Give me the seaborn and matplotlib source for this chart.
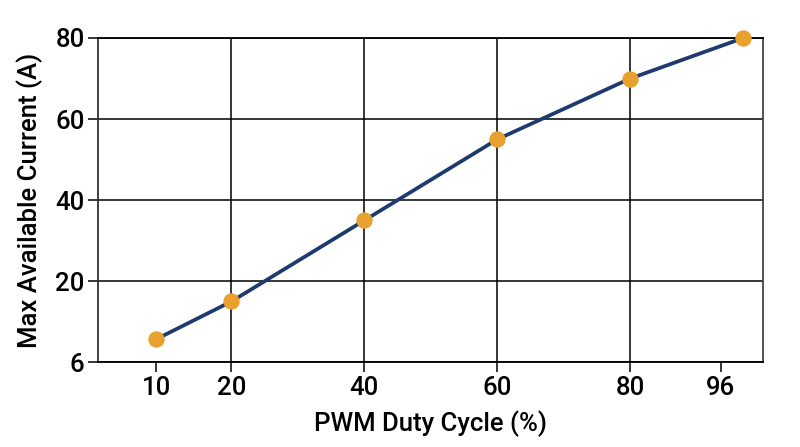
import numpy as np
import pandas as pd
import matplotlib
matplotlib.use("Agg")
import matplotlib.pyplot as plt
import seaborn as sns

# values (x positions on a 0-100 scale)
duty = [8.7, 20, 40, 60, 80, 97]
current = [5.7, 15, 35, 55, 70, 80]

# tick labels as printed on the chart
xmajor = [20, 40, 60, 80]
xmajor_labels = ["20", "40", "60", "80"]
xminor = [8.7, 93.6]
xminor_labels = ["10", "96"]
yticks = [0, 20, 40, 60, 80]
ytick_labels = ["6", "20", "40", "60", "80"]

navy = "#1e3a6f"
orange = "#e8a02e"

sns.set_theme(style="white")
plt.rcParams['font.family'] = ['Roboto', 'DejaVu Sans']
plt.rcParams['font.weight'] = 500

df = pd.DataFrame({"duty": duty, "current": current})

fig = plt.figure(figsize=(8, 4.47), dpi=100)
ax = fig.add_axes([0.123, 0.1895, 0.831, 0.7255])

sns.lineplot(data=df, x="duty", y="current", ax=ax, color=navy, linewidth=2.7,
             marker="o", markersize=11, markerfacecolor=orange,
             markeredgecolor=orange, zorder=3, clip_on=False)

ax.set_xlim(0, 100)
ax.set_ylim(0, 80)

ax.set_xticks(xmajor)
ax.set_xticklabels(xmajor_labels, fontweight=500)
ax.set_xticks(xminor, minor=True)
ax.set_xticklabels(xminor_labels, minor=True, fontweight=500)
ax.set_yticks(yticks)
ax.set_yticklabels(ytick_labels, fontweight=500)

ax.grid(True, which="major", color="black", linewidth=1.1)
ax.tick_params(axis="both", which="both", direction="out", length=7, width=1.1,
               color="black", labelsize=18.5, labelcolor="black", pad=3)
ax.tick_params(axis="x", which="both", bottom=True)
ax.tick_params(axis="y", left=True)

for side in ["left", "right", "bottom", "top"]:
    ax.spines[side].set_visible(True)
    ax.spines[side].set_linewidth(1.3)
ax.spines["left"].set_color("#333333")
ax.spines["right"].set_color("#444444")
ax.spines["bottom"].set_color("black")
ax.spines["top"].set_color("black")

ax.set_xlabel("PWM Duty Cycle (%)", fontsize=18.5, fontweight=500, color="black", labelpad=7)
ax.set_ylabel("Max Available Current (A)", fontsize=18.5, fontweight=500, color="black", labelpad=9)

fig.savefig("out.png", dpi=100, facecolor="white")
